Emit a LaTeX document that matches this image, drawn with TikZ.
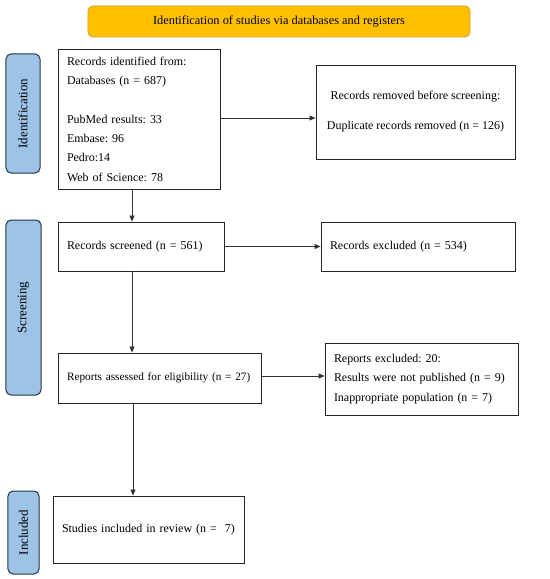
\documentclass[tikz,border=0pt]{standalone}
\usepackage{fontspec}
\setmainfont{Liberation Serif}
\usetikzlibrary{arrows.meta}
\definecolor{bannerfill}{HTML}{FFC000}
\definecolor{bannerdraw}{HTML}{D4A017}
\definecolor{labelfill}{HTML}{9DC3E6}
\definecolor{labeldraw}{HTML}{223344}
\frenchspacing
\tikzset{
  txt/.style={font=\fontsize{12}{19.4}\selectfont},
  box/.style={draw=black!85, line width=0.9bp, rectangle, txt, inner xsep=9bp, inner ysep=0pt},
  phase/.style={draw=labeldraw, fill=labelfill, line width=1bp, rounded corners=5bp, inner sep=0pt},
  phasetext/.style={rotate=90, font=\fontsize{13}{14}\selectfont},
  conn/.style={draw=black!80, line width=0.8bp, -{Triangle[length=6bp,width=5bp]}}
}
\begin{document}
\begin{tikzpicture}[x=1bp,y=-1bp]
\useasboundingbox (0,0) rectangle (550,579);
% banner
\node[draw=bannerdraw, fill=bannerfill, line width=0.8bp, rounded corners=5bp,
  minimum width=382bp, minimum height=31bp, inner sep=0pt, font=\fontsize{12.4}{14}\selectfont] (ban) at (279,21.5)
  {Identification of studies via databases and registers};
% phase labels
\node[phase, minimum width=34bp, minimum height=119bp] (pid) at (23,113.5) {};
\node[phasetext] (pidt) at (pid.center) {Identification};
\node[phase, minimum width=35bp, minimum height=175bp] (psc) at (23.5,307.5) {};
\node[phasetext] (psct) at (psc.center) {Screening};
\node[phase, minimum width=31bp, minimum height=83bp] (pin) at (23.5,532.5) {};
\node[phasetext] (pint) at (pin.center) {Included};
% boxes
\node[box, minimum width=162bp, minimum height=140bp, text width=144bp, align=left] (rec) at (139,119)
  {\mbox{Records identified from:}\\ \mbox{Databases (n = 687)}\\ \mbox{}\\ \mbox{PubMed results: 33}\\ \mbox{Embase: 96}\\ \mbox{Pedro:14}\\ \mbox{Web of Science: 78}};
\node[box, minimum width=199bp, minimum height=94bp, align=center] (rem) at (415.5,112)
  {Records removed before screening:\\[10.6bp] Duplicate records removed (n = 126)};
\node[box, minimum width=166bp, minimum height=49bp, text width=148bp, align=left] (scr) at (141,246.5)
  {\mbox{Records screened (n = 561)}};
\node[box, minimum width=194bp, minimum height=49bp, text width=176bp, align=left] (exc) at (418,246.5)
  {\mbox{Records excluded (n = 534)}};
\node[box, minimum width=203bp, minimum height=50bp, text width=185bp, align=left,
  font=\fontsize{11.3}{19.4}\selectfont] (rep) at (159.5,378)
  {\mbox{Reports assessed for eligibility (n = 27)}};
\node[box, minimum width=193bp, minimum height=72bp, text width=175bp, align=left] (rx) at (421.5,379)
  {\mbox{Reports excluded: 20:}\\ \mbox{Results were not published (n = 9)}\\ \mbox{Inappropriate population (n = 7)}};
\node[box, minimum width=191bp, minimum height=67bp, text width=173bp, align=left] (inc) at (148.5,529.5)
  {\mbox{Studies included in review (n =\ \ 7)}};
% connectors
\draw[conn] ([yshift=1bp]rec.east) -- ([yshift=1bp]rec.east -| rem.west);
\draw[conn] ([xshift=-7bp]rec.south) -- ([xshift=-7bp]rec.south |- scr.north);
\draw[conn] (scr.east) -- (scr.east -| exc.west);
\draw[conn] ([xshift=-9bp]scr.south) -- ([xshift=-9bp]scr.south |- rep.north);
\draw[conn] ([yshift=2bp]rep.east) -- ([yshift=2bp]rep.east -| rx.west);
\draw[conn] ([xshift=-26.5bp]rep.south) -- ([xshift=-26.5bp]rep.south |- inc.north);
\end{tikzpicture}
\end{document}
